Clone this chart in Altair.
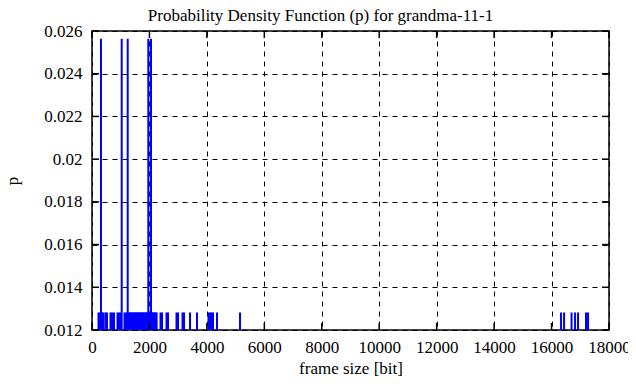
import altair as alt
import pandas as pd

# frame sizes [bit] seen once (p = 1/78) and twice (p = 2/78)
short_bits = [226, 279, 348, 400, 470, 523, 644, 697, 766, 888, 940, 1010, 1132, 1184,
              1271, 1300, 1338, 1365, 1402, 1431, 1470, 1498, 1533, 1566, 1597, 1630,
              1664, 1695, 1729, 1762, 1791, 1826, 1858, 1889, 1922, 1951, 1988, 2019,
              2050, 2087, 2118, 2150, 2182, 2215, 2250,
              2385, 2437, 2594, 2646, 2942, 2994, 3151, 3203, 3412, 3656,
              4056, 4109, 4161, 4213, 4352, 5153,
              16330, 16435, 16696, 16818, 16922, 17200, 17270]
tall_bits = [313, 1034, 1243, 1960, 2054]
n_frames = 78

x_ticks = [0, 2000, 4000, 6000, 8000, 10000, 12000, 14000, 16000, 18000]
y_ticks = [0.012, 0.014, 0.016, 0.018, 0.020, 0.022, 0.024, 0.026]

df = pd.DataFrame({
    "bits": short_bits + tall_bits,
    "p": [1 / n_frames] * len(short_bits) + [2 / n_frames] * len(tall_bits),
})
xt = pd.DataFrame({"bits": x_ticks})
yt = pd.DataFrame({"p": y_ticks})

W, H = 517, 299
FONT = "Liberation Serif"
LFONT = "'Liberation Serif', 'Times New Roman', serif"
FS = 17
TL = 7

xs = alt.Scale(domain=[0, 18000], nice=False, zero=False)
ys = alt.Scale(domain=[0.012, 0.026], nice=False, zero=False)

common = dict(grid=True, gridDash=[5, 5], gridColor="black", gridWidth=1, gridOpacity=1,
              domain=False, ticks=False, labelOverlap=False, labelFlush=False,
              labelFont=LFONT, labelFontSize=FS, labelColor="black",
              titleFont=FONT, titleFontSize=FS, titleFontWeight="normal", titleColor="black")
x_axis = alt.Axis(values=x_ticks, format="d", title="frame size [bit]",
                  labelPadding=9, titlePadding=5, **common)
y_axis = alt.Axis(values=y_ticks, labelExpr="format(datum.value, '.3~f')", title="p",
                  labelPadding=10, titlePadding=22, **common)

impulses = alt.Chart(df).transform_calculate(base="0.012").mark_rule(
    color="#0000ff", strokeWidth=2, clip=True
).encode(
    x=alt.X("bits:Q", scale=xs, axis=x_axis),
    y=alt.Y("p:Q", scale=ys, axis=y_axis),
    y2="base:Q",
)

tick_style = dict(color="black", strokeWidth=1.5)
xb = alt.Chart(xt).mark_rule(**tick_style).encode(
    x=alt.X("bits:Q", scale=xs, axis=x_axis), y=alt.value(H), y2=alt.value(H - TL))
xtop = alt.Chart(xt).mark_rule(**tick_style).encode(
    x=alt.X("bits:Q", scale=xs, axis=x_axis), y=alt.value(0), y2=alt.value(TL))
yl = alt.Chart(yt).mark_rule(**tick_style).encode(
    y=alt.Y("p:Q", scale=ys, axis=y_axis), x=alt.value(0), x2=alt.value(TL))
yr = alt.Chart(yt).mark_rule(**tick_style).encode(
    y=alt.Y("p:Q", scale=ys, axis=y_axis), x=alt.value(W), x2=alt.value(W - TL))

chart = alt.layer(impulses, xb, xtop, yl, yr).properties(
    width=W, height=H,
    title=alt.TitleParams("Probability Density Function (p) for grandma-11-1",
                          font=FONT, fontSize=FS, fontWeight="normal", color="black",
                          anchor="middle", dx=-30, dy=16, offset=0, baseline="alphabetic"),
    autosize=alt.AutoSizeParams(type="none"),
    padding={"left": 84, "top": 23, "right": 19, "bottom": 48},
).configure(
    font=FONT,
    style={
        "guide-label": {"font": LFONT, "fontSize": FS, "fill": "black"},
        "guide-title": {"font": FONT, "fontSize": FS, "fill": "black"},
    },
).configure_view(stroke="black", strokeWidth=1.5).configure_axis(
    labelFont=LFONT, titleFont=FONT)

chart.save("out.html", embed_options={"renderer": "svg", "actions": False})
